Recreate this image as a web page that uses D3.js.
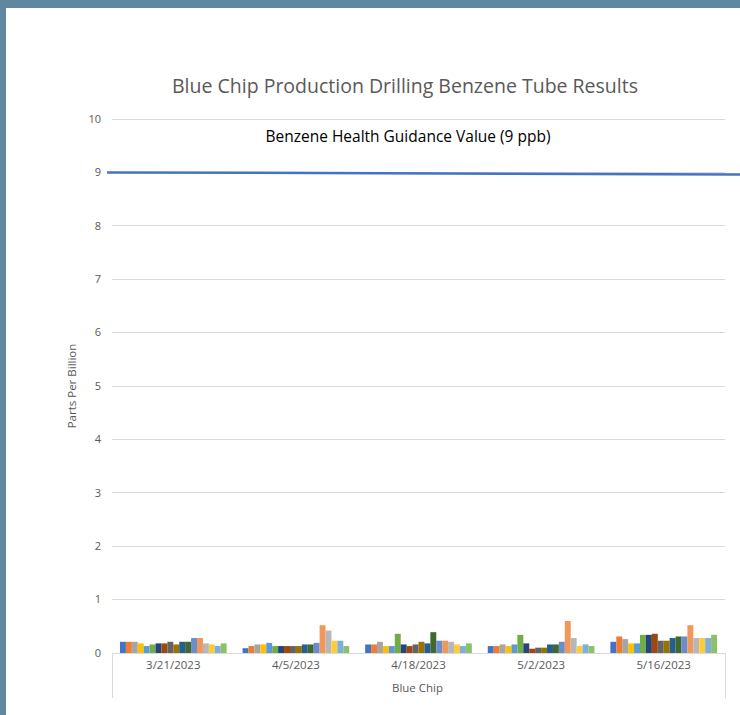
<!DOCTYPE html>
<html><head><meta charset="utf-8">
<script src="https://cdn.jsdelivr.net/npm/d3@7"></script>
<style>
html,body{margin:0;padding:0;background:#5f87a0;}
svg{display:block;}
</style></head>
<body>
<svg id="chart" width="740" height="715"></svg>
<script>
const categories = ["3/21/2023","4/5/2023","4/18/2023","5/2/2023","5/16/2023"];
const seriesNames = ["Tube 1","Tube 2","Tube 3","Tube 4","Tube 5","Tube 6","Tube 7","Tube 8","Tube 9",
  "Tube 10","Tube 11","Tube 12","Tube 13","Tube 14","Tube 15","Tube 16","Tube 17","Tube 18"];
// values[category][series]
const values = [
  [0.21,0.21,0.21,0.18,0.13,0.16,0.18,0.18,0.21,0.16,0.21,0.21,0.28,0.28,0.18,0.16,0.13,0.18],
  [0.09,0.13,0.16,0.16,0.19,0.13,0.13,0.13,0.13,0.13,0.16,0.16,0.19,0.52,0.42,0.23,0.23,0.13],
  [0.16,0.16,0.21,0.13,0.13,0.36,0.16,0.13,0.16,0.21,0.18,0.39,0.23,0.23,0.21,0.16,0.13,0.18],
  [0.13,0.13,0.16,0.13,0.16,0.34,0.18,0.08,0.10,0.10,0.16,0.16,0.21,0.60,0.28,0.13,0.16,0.13],
  [0.21,0.31,0.26,0.18,0.18,0.34,0.34,0.36,0.23,0.23,0.28,0.31,0.31,0.52,0.28,0.28,0.28,0.34]
];
const colors = ["#4472C4","#ED7D31","#A5A5A5","#FFC000","#5B9BD5","#70AD47","#264478","#9E480E","#636363",
  "#997300","#255E91","#43682B","#698ED0","#F1975A","#B7B7B7","#FFCD33","#7CAFDD","#8CC168"];
const yTicks = [0,1,2,3,4,5,6,7,8,9,10];
const guidanceValue = 9;
const guidanceLabel = "Benzene Health Guidance Value (9 ppb)";
const title = "Blue Chip Production Drilling Benzene Tube Results";
const yTitle = "Parts Per Billion";
const xTitle = "Blue Chip";

const svg = d3.select("#chart");
svg.append("rect").attr("x",6).attr("y",8).attr("width",734).attr("height",707).attr("fill","#fff");

const pLeft=112, pRight=725, pTop=119, pBottom=653;
const x0 = d3.scaleBand().domain(categories).range([pLeft,pRight]).paddingInner(0.13).paddingOuter(0.065);
const x1 = d3.scaleBand().domain(seriesNames).range([0,x0.bandwidth()]);
const y = d3.scaleLinear().domain([0,10]).range([pBottom,pTop]);
const font = "'Open Sans', 'Liberation Sans', sans-serif";

// gridlines
svg.append("g").selectAll("line").data(yTicks.filter(d=>d>0)).join("line")
  .attr("x1",pLeft).attr("x2",pRight).attr("y1",d=>y(d)).attr("y2",d=>y(d))
  .attr("stroke","#d9d9d9").attr("stroke-width",1).attr("shape-rendering","crispEdges");

// y labels
svg.append("g").selectAll("text").data(yTicks).join("text")
  .attr("x",101).attr("y",d=>y(d)).attr("dy","0.35em").attr("text-anchor","end")
  .attr("font-family",font).attr("font-size",11).attr("fill","#595959").text(d=>d);

// bars
const g = svg.append("g");
categories.forEach((c,ci)=>{
  g.append("g").selectAll("rect").data(values[ci]).join("rect")
    .attr("x",(d,i)=>x0(c)+x1(seriesNames[i]))
    .attr("width",x1.bandwidth())
    .attr("y",d=>y(d)).attr("height",d=>y(0)-y(d))
    .attr("fill",(d,i)=>colors[i]);
});

// category axis
svg.append("line").attr("x1",pLeft).attr("x2",pRight).attr("y1",pBottom+0.5).attr("y2",pBottom+0.5)
  .attr("stroke","#d9d9d9");
[pLeft,pRight].forEach(xx=>svg.append("line").attr("x1",xx+0.5).attr("x2",xx+0.5)
  .attr("y1",pBottom).attr("y2",698).attr("stroke","#d9d9d9"));
svg.append("g").selectAll("text").data(categories).join("text")
  .attr("x",d=>x0(d)+x0.bandwidth()/2).attr("y",665).attr("dy","0.35em").attr("text-anchor","middle")
  .attr("font-family",font).attr("font-size",11.5).attr("fill","#595959").text(d=>d);
svg.append("text").attr("x",(pLeft+pRight)/2-1).attr("y",688).attr("dy","0.35em").attr("text-anchor","middle")
  .attr("font-family",font).attr("font-size",11.5).attr("fill","#595959").text(xTitle);

// y title
svg.append("text").attr("transform",`translate(72,${(pTop+pBottom)/2}) rotate(-90)`)
  .attr("text-anchor","middle").attr("dy","0.35em")
  .attr("font-family",font).attr("font-size",11.5).attr("fill","#595959").text(yTitle);

// guidance line (slightly extends beyond plot)
const xl = d3.scaleLinear().domain([0,1]).range([107,740]);
svg.append("line").attr("x1",xl(0)).attr("x2",xl(1))
  .attr("y1",y(guidanceValue)).attr("y2",y(guidanceValue)+2)
  .attr("stroke","#4472C4").attr("stroke-width",2.5);
svg.append("text").attr("x",408).attr("y",137).attr("dy","0.35em").attr("text-anchor","middle")
  .attr("font-family",font).attr("font-size",15.5).attr("fill","#000").text(guidanceLabel);

// title
svg.append("text").attr("x",405).attr("y",86).attr("dy","0.35em").attr("text-anchor","middle")
  .attr("font-family",font).attr("font-size",19.5).attr("fill","#595959").text(title);
</script>
</body></html>
